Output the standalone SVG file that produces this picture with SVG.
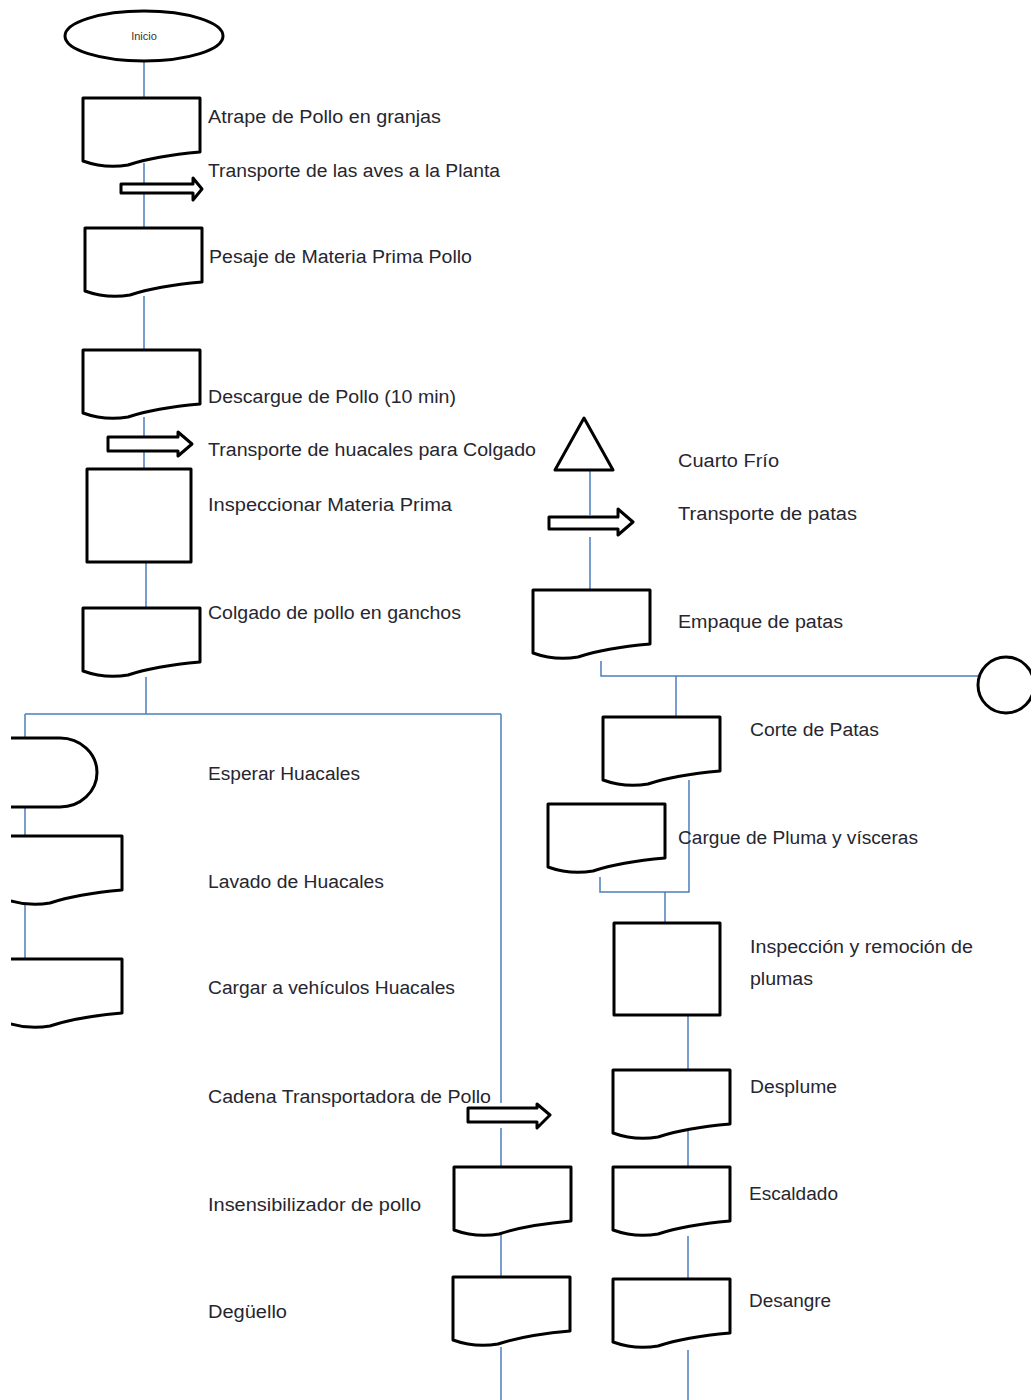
<svg xmlns="http://www.w3.org/2000/svg" xmlns:xlink="http://www.w3.org/1999/xlink" width="1031" height="1400" viewBox="0 0 1031 1400">
<style>
.sh{fill:#fff;stroke:#000;stroke-width:3;stroke-linejoin:round}
.cn{fill:none;stroke:#4a7ebb;stroke-width:1.5}
.lb{font-family:"Liberation Sans",Arial,sans-serif;font-size:18px;fill:#262630}
</style>
<defs>
<path id="doc" d="M0,0 H117 V54 Q72,58 45,67 Q22,71 0,63 Z"/>
<clipPath id="clipL"><rect x="11" y="0" width="1020" height="1400"/></clipPath>
</defs>
<rect width="1031" height="1400" fill="#fff"/>
<g id="connectors" class="cn">
<path d="M144,62 V98"/>
<path d="M144,163 V228"/>
<path d="M144,296 V350"/>
<path d="M144,417 V469"/>
<path d="M146,562 V608"/>
<path d="M146,677 V714"/>
<path d="M25,714 H501"/>
<path d="M25,714 V738"/>
<path d="M25,807 V836"/>
<path d="M25,905 V959"/>
<path d="M501,714 V1103"/>
<path d="M501,1128 V1167"/>
<path d="M501,1233 V1277"/>
<path d="M501,1347 V1400"/>
<path d="M590,470 V515"/>
<path d="M590,537 V590"/>
<path d="M601,661 V676 H978"/>
<path d="M676,676 V717"/>
<path d="M689,780 V892 H600 V877"/>
<path d="M665,892 V922"/>
<path d="M688,1015 V1070"/>
<path d="M688,1130 V1167"/>
<path d="M688,1236 V1279"/>
<path d="M688,1350 V1400"/>
</g>
<g id="n-inicio"><ellipse class="sh" cx="144" cy="36" rx="79" ry="25"/><text x="144" y="40" text-anchor="middle" font-family="Liberation Sans,Arial,sans-serif" font-size="11" fill="#333">Inicio</text></g>
<g id="n-atrape"><use href="#doc" class="sh" transform="translate(83,98)"/><text class="lb" x="208" y="123" textLength="233" lengthAdjust="spacingAndGlyphs">Atrape de Pollo en granjas</text></g>
<g id="n-transporte-aves"><path class="sh" d="M121,184 H193 V178 L202,189 L193,200 V193 H121 Z"/><text class="lb" x="208" y="177" textLength="292" lengthAdjust="spacingAndGlyphs">Transporte de las aves a la Planta</text></g>
<g id="n-pesaje"><use href="#doc" class="sh" transform="translate(85,228)"/><text class="lb" x="209" y="263" textLength="263" lengthAdjust="spacingAndGlyphs">Pesaje de Materia Prima Pollo</text></g>
<g id="n-descargue"><use href="#doc" class="sh" transform="translate(83,350)"/><text class="lb" x="208" y="403" textLength="248" lengthAdjust="spacingAndGlyphs">Descargue de Pollo (10 min)</text></g>
<g id="n-transporte-huacales"><path class="sh" d="M108,437 H178 V432 L192,444 L178,456 V451 H108 Z"/><text class="lb" x="208" y="456" textLength="328" lengthAdjust="spacingAndGlyphs">Transporte de huacales para Colgado</text></g>
<g id="n-inspeccionar"><rect class="sh" x="87" y="469" width="104" height="93"/><text class="lb" x="208" y="511" textLength="244" lengthAdjust="spacingAndGlyphs">Inspeccionar Materia Prima</text></g>
<g id="n-colgado"><use href="#doc" class="sh" transform="translate(83,608)"/><text class="lb" x="208" y="619" textLength="253" lengthAdjust="spacingAndGlyphs">Colgado de pollo en ganchos</text></g>
<g id="n-esperar"><path class="sh" clip-path="url(#clipL)" d="M0,738 H60 A37,34.5 0 0 1 60,807 H0 Z"/><text class="lb" x="208" y="780" textLength="152" lengthAdjust="spacingAndGlyphs">Esperar Huacales</text></g>
<g id="n-lavado" clip-path="url(#clipL)"><use href="#doc" class="sh" transform="translate(5,836)"/></g>
<g id="n-lavado-label"><text class="lb" x="208" y="888" textLength="176" lengthAdjust="spacingAndGlyphs">Lavado de Huacales</text></g>
<g id="n-cargar" clip-path="url(#clipL)"><use href="#doc" class="sh" transform="translate(5,959)"/></g>
<g id="n-cargar-label"><text class="lb" x="208" y="994" textLength="247" lengthAdjust="spacingAndGlyphs">Cargar a vehículos Huacales</text></g>
<g id="n-cadena"><path class="sh" d="M468,1108 H537 V1104 L550,1115 L537,1128 V1122 H468 Z"/><text class="lb" x="208" y="1103" textLength="283" lengthAdjust="spacingAndGlyphs">Cadena Transportadora de Pollo</text></g>
<g id="n-insensibilizador"><use href="#doc" class="sh" transform="translate(454,1167)"/><text class="lb" x="208" y="1211" textLength="213" lengthAdjust="spacingAndGlyphs">Insensibilizador de pollo</text></g>
<g id="n-deguello"><use href="#doc" class="sh" transform="translate(453,1277)"/><text class="lb" x="208" y="1318" textLength="79" lengthAdjust="spacingAndGlyphs">Degüello</text></g>
<g id="n-cuarto-frio"><path class="sh" d="M584,418 L613,470 L555,470 Z"/><text class="lb" x="678" y="467" textLength="101" lengthAdjust="spacingAndGlyphs">Cuarto Frío</text></g>
<g id="n-transporte-patas"><path class="sh" d="M549,517 H618 V509 L633,522 L618,535 V529 H549 Z"/><text class="lb" x="678" y="520" textLength="179" lengthAdjust="spacingAndGlyphs">Transporte de patas</text></g>
<g id="n-empaque"><use href="#doc" class="sh" transform="translate(533,590)"/><text class="lb" x="678" y="628" textLength="165" lengthAdjust="spacingAndGlyphs">Empaque de patas</text></g>
<g id="n-conector"><circle class="sh" cx="1006" cy="685" r="28"/></g>
<g id="n-corte"><use href="#doc" class="sh" transform="translate(603,717)"/><text class="lb" x="750" y="736" textLength="129" lengthAdjust="spacingAndGlyphs">Corte de Patas</text></g>
<g id="n-cargue"><use href="#doc" class="sh" transform="translate(548,804)"/><text class="lb" x="678" y="844" textLength="240" lengthAdjust="spacingAndGlyphs">Cargue de Pluma y vísceras</text></g>
<g id="n-inspeccion"><rect class="sh" x="614" y="923" width="106" height="92"/><text class="lb" x="750" y="953" textLength="223" lengthAdjust="spacingAndGlyphs">Inspección y remoción de</text><text class="lb" x="750" y="985" textLength="63" lengthAdjust="spacingAndGlyphs">plumas</text></g>
<g id="n-desplume"><use href="#doc" class="sh" transform="translate(613,1070)"/><text class="lb" x="750" y="1093" textLength="87" lengthAdjust="spacingAndGlyphs">Desplume</text></g>
<g id="n-escaldado"><use href="#doc" class="sh" transform="translate(613,1167)"/><text class="lb" x="749" y="1200" textLength="89" lengthAdjust="spacingAndGlyphs">Escaldado</text></g>
<g id="n-desangre"><use href="#doc" class="sh" transform="translate(613,1279)"/><text class="lb" x="749" y="1307" textLength="82" lengthAdjust="spacingAndGlyphs">Desangre</text></g>
</svg>
